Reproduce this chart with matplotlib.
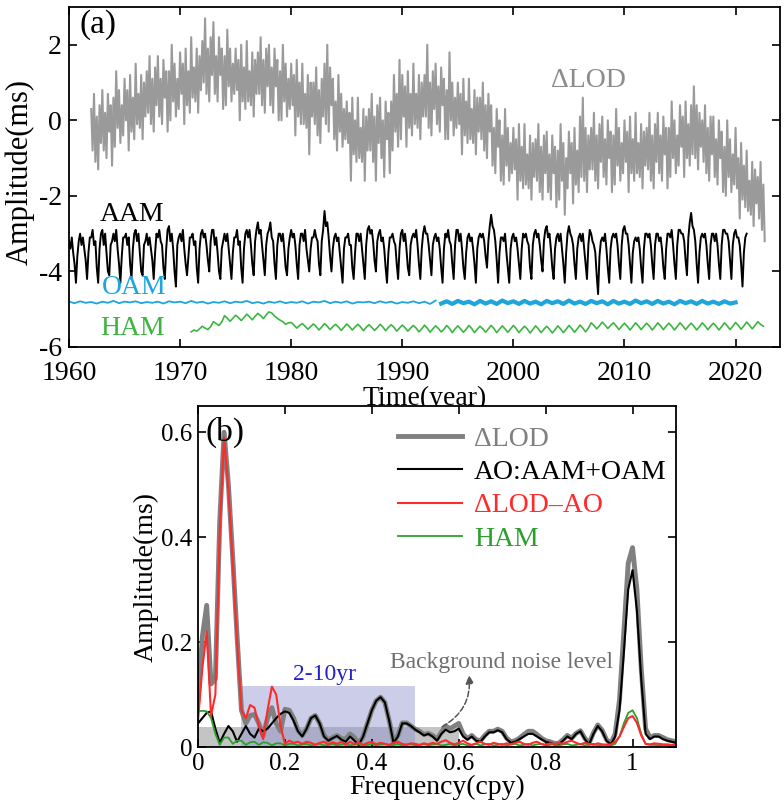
import numpy as np
import matplotlib
matplotlib.use('Agg')
import matplotlib.pyplot as plt
from matplotlib.patches import Rectangle

plt.rcParams['font.family'] = ['Liberation Serif', 'DejaVu Serif']
plt.rcParams['axes.unicode_minus'] = False

# ---- panel (a): time series, 8 samples per year for LOD and AAM ----
lod_rows = [
    [0.3, -0.8, 0.7, -1.1, 0.1, -1.3, 0.4, -0.6],   # 1962
    [0.8, -0.8, 0.2, -1.0, 0.7, -0.3, 0.4, -1.2],
    [0.6, -0.7, 1.3, -0.2, 0.8, -0.6, 0.4, -0.4],
    [1.1, 0.0, 0.8, -0.8, 1.2, -0.3, 0.6, -0.5],
    [1.5, -0.1, 0.7, -0.2, 1.2, -0.5, 1.0, 0.1],
    [1.3, 0.2, 1.7, -0.1, 1.1, -0.3, 1.4, 0.4],
    [1.7, 0.1, 1.1, -0.1, 1.6, 0.6, 1.3, -0.3],
    [1.3, 0.0, 2.0, 0.5, 1.5, 0.1, 1.1, 0.3],
    [1.8, 0.7, 1.5, -0.1, 1.9, 0.4, 1.3, 0.2],
    [2.2, 0.6, 1.4, 0.5, 1.9, 0.2, 1.7, 0.8],
    [2.1, 1.0, 2.7, 0.7, 1.9, 0.5, 2.2, 1.2],       # 1972
    [2.6, 0.7, 1.7, 0.5, 2.2, 1.2, 1.9, 0.3],
    [1.7, 0.4, 2.4, 0.9, 1.9, 0.5, 1.5, 0.7],
    [1.9, 0.8, 1.6, 0.0, 2.0, 0.5, 1.4, 0.3],
    [2.1, 0.5, 1.3, 0.4, 1.8, 0.1, 1.6, 0.7],
    [1.8, 0.7, 2.2, 0.4, 1.6, 0.2, 1.9, 0.9],
    [2.0, 0.4, 1.4, 0.2, 1.9, 0.9, 1.6, 0.0],
    [1.3, 0.0, 2.0, 0.5, 1.5, 0.1, 1.1, 0.3],
    [1.5, 0.4, 1.2, -0.4, 1.6, 0.1, 1.0, -0.1],
    [1.5, -0.1, 0.7, -0.2, 1.2, -0.9, 1.0, 0.1],
    [1.0, -0.1, 1.4, -0.4, 0.8, -0.6, 1.1, 0.1],    # 1982
    [1.5, -0.1, 2.0, -0.3, 1.4, 0.4, 1.1, -0.5],
    [0.5, -0.8, 1.2, -0.3, 0.7, -0.7, 0.3, -0.5],
    [0.5, -0.6, 0.2, -1.6, 0.6, -0.9, 0.0, -1.1],
    [0.6, -1.0, -0.2, -1.1, 0.3, -1.6, 0.1, -0.8],
    [0.3, -0.8, 0.7, -1.1, 0.1, -1.6, 0.4, -0.6],
    [0.6, -1.0, 0.0, -1.5, 0.5, -0.5, 0.2, -1.4],
    [0.5, -0.8, 1.2, -0.3, 0.7, -0.7, 1.6, -0.5],
    [1.2, 0.1, 0.9, -0.7, 1.3, -0.2, 0.7, -0.4],
    [1.5, -0.1, 0.7, -0.2, 1.2, -0.5, 1.0, 0.1],
    [1.2, 0.1, 2.0, -0.2, 1.0, -0.4, 1.3, 0.3],     # 1992
    [1.5, -0.1, 0.9, -0.3, 1.4, 0.4, 1.1, -0.5],
    [0.8, -0.5, 1.8, 0.0, 1.0, -0.4, 0.6, -0.2],
    [1.0, -0.1, 0.7, -0.9, 1.1, -0.4, 0.5, -0.6],
    [1.1, -0.5, 0.3, -0.6, 0.8, -0.9, 0.6, -0.3],
    [0.6, -0.5, 1.0, -0.8, 0.4, -1.0, 0.7, -0.3],
    [0.4, -1.2, -0.2, -1.4, 0.3, -0.7, 0.0, -1.6],
    [-0.4, -1.7, 0.3, -1.2, -0.2, -1.6, -0.6, -1.4],
    [-0.2, -1.3, -0.5, -2.1, -0.1, -1.6, -0.7, -1.8],
    [-0.1, -1.7, -0.9, -1.8, -0.4, -2.1, -0.6, -1.5],
    [-0.5, -1.6, -0.1, -1.9, -0.7, -2.1, -0.4, -1.4],  # 2002
    [-0.3, -1.9, -0.9, -2.1, -0.4, -1.4, -0.7, -2.3],
    [-0.8, -2.1, -0.1, -1.6, -0.6, -2.5, -1.0, -1.8],
    [-0.3, -1.4, -0.6, -2.2, -0.2, -1.7, -0.8, -1.9],
    [0.1, -1.5, 0.6, -1.6, -0.2, -1.9, -0.4, -1.3],
    [-0.2, -1.3, 0.2, -1.6, -0.4, -1.8, -0.1, -1.1],
    [0.1, -1.5, -0.5, -1.7, 0.0, -1.0, -0.3, -1.9],
    [-0.4, -1.7, 0.3, -1.2, -0.2, -1.6, -0.6, -1.4],
    [0.0, -1.1, -0.3, -1.9, 0.1, -1.4, -0.5, -1.6],
    [0.2, -1.4, -0.6, -1.5, -0.1, -1.8, -0.3, -1.2],
    [-0.2, -1.3, 0.2, -1.6, -0.4, -1.8, -0.1, -1.1],   # 2012
    [0.2, -1.4, -0.4, -1.6, 0.1, -0.9, -0.2, -1.8],
    [-0.2, -1.5, 0.5, -1.0, 0.0, -1.4, -0.4, -1.2],
    [0.4, -0.7, 0.1, -1.5, 0.5, -1.0, -0.1, -1.2],
    [0.4, -0.9, 0.9, -1.0, 0.4, -1.3, 0.2, -0.7],
    [0.0, -1.1, 0.4, -1.4, -0.2, -1.6, 0.1, -0.9],
    [0.1, -1.5, -0.5, -1.7, 0.0, -1.0, -0.3, -1.9],
    [-0.7, -2.0, 0.0, -1.5, -0.5, -1.9, -0.9, -1.7],
    [-0.2, -1.8, -1.0, -2.6, -0.6, -2.1, -1.2, -2.3],
    [-0.8, -2.4, -1.6, -2.5, -1.1, -2.8, -1.3, -2.2],
    [-1.5, -2.6, -1.1, -2.9, -1.7, -3.2],              # 2022
]

aam_rows = [
    [-3.2, -3.4, -3.1, -3.5, -3.8, -4.3, -3.6, -3.2],  # 1960
    [-3.0, -3.3, -3.1, -3.4, -3.7, -4.2, -3.5, -3.1],
    [-3.1, -2.9, -3.3, -3.2, -3.9, -4.3, -3.4, -3.0],
    [-2.9, -3.3, -3.0, -3.5, -4.0, -4.1, -3.3, -3.2],
    [-3.0, -3.2, -2.9, -3.4, -3.8, -4.3, -3.6, -3.1],
    [-3.1, -3.0, -3.3, -3.1, -3.8, -4.2, -3.4, -3.0],
    [-2.9, -3.2, -3.0, -3.5, -4.0, -4.1, -3.3, -3.2],
    [-3.0, -3.3, -3.1, -3.4, -3.7, -4.2, -3.5, -3.0],
    [-3.1, -2.9, -3.2, -3.3, -3.9, -4.2, -3.4, -2.9],
    [-2.8, -3.2, -3.0, -3.4, -4.0, -4.4, -3.3, -3.1],
    [-3.0, -3.2, -2.9, -3.4, -3.8, -4.1, -3.6, -3.1],  # 1970
    [-3.1, -3.0, -3.3, -3.2, -3.9, -4.3, -3.4, -3.0],
    [-2.9, -3.1, -3.0, -3.3, -3.7, -4.0, -3.2, -2.9],
    [-2.9, -3.3, -3.1, -3.5, -4.0, -4.2, -3.4, -3.2],
    [-3.0, -3.2, -3.0, -3.4, -3.8, -4.2, -3.5, -3.1],
    [-3.1, -2.9, -3.3, -3.2, -3.9, -4.3, -3.4, -3.0],
    [-2.9, -3.1, -2.9, -3.3, -3.8, -4.1, -3.2, -2.9],
    [-2.7, -3.0, -2.9, -3.3, -3.7, -4.1, -3.3, -3.0],
    [-2.9, -2.7, -3.1, -3.2, -3.8, -4.2, -3.3, -3.0],
    [-3.0, -3.2, -3.0, -3.4, -3.9, -4.1, -3.4, -3.1],
    [-2.9, -3.1, -3.0, -3.3, -3.8, -4.2, -3.3, -3.0],  # 1980
    [-3.0, -3.2, -2.9, -3.4, -3.7, -4.0, -3.4, -3.1],
    [-3.1, -2.9, -3.1, -3.2, -3.8, -4.1, -3.2, -2.9],
    [-2.4, -2.8, -2.7, -3.1, -3.6, -4.0, -3.4, -3.1],
    [-3.0, -3.2, -3.1, -3.5, -3.9, -4.3, -3.4, -3.1],
    [-3.1, -3.0, -3.3, -3.3, -3.9, -4.2, -3.5, -3.0],
    [-3.0, -3.2, -3.0, -3.4, -3.8, -4.2, -3.3, -2.9],
    [-2.8, -3.0, -2.9, -3.2, -3.7, -4.0, -3.2, -3.0],
    [-2.9, -3.2, -3.1, -3.4, -3.9, -4.3, -3.5, -3.1],
    [-3.1, -3.0, -3.2, -3.3, -3.8, -4.2, -3.4, -3.0],
    [-2.9, -3.2, -3.0, -3.4, -3.9, -4.1, -3.3, -3.1],  # 1990
    [-3.0, -3.1, -2.9, -3.3, -3.8, -4.2, -3.4, -3.0],
    [-2.8, -3.0, -3.0, -3.3, -3.7, -4.1, -3.3, -3.1],
    [-3.0, -3.2, -3.1, -3.4, -3.9, -4.3, -3.4, -3.0],
    [-3.1, -2.9, -3.2, -3.3, -3.8, -4.2, -3.3, -2.9],
    [-2.9, -3.2, -3.0, -3.4, -3.9, -4.2, -3.5, -3.1],
    [-3.0, -3.2, -3.1, -3.4, -3.8, -4.3, -3.4, -3.1],
    [-3.0, -3.1, -3.0, -3.2, -3.6, -3.9, -3.2, -2.8],
    [-2.5, -2.8, -2.9, -3.2, -3.7, -4.3, -3.5, -3.1],
    [-3.1, -3.2, -3.0, -3.5, -3.9, -4.3, -3.4, -3.1],
    [-3.0, -3.2, -3.1, -3.4, -3.8, -4.2, -3.4, -3.0],  # 2000
    [-3.1, -3.0, -3.2, -3.3, -3.9, -4.2, -3.3, -3.0],
    [-2.9, -3.1, -3.0, -3.3, -3.7, -4.0, -3.2, -2.9],
    [-2.8, -3.1, -3.0, -3.4, -3.9, -4.2, -3.4, -3.1],
    [-3.0, -3.2, -3.0, -3.4, -3.8, -4.3, -3.5, -3.0],
    [-2.8, -3.0, -3.1, -3.3, -3.8, -4.2, -3.4, -3.1],
    [-3.0, -3.2, -3.0, -3.4, -3.8, -4.2, -3.3, -2.9],
    [-3.0, -3.2, -3.3, -3.5, -4.1, -4.6, -3.6, -3.2],
    [-3.1, -3.2, -3.0, -3.4, -3.9, -4.3, -3.4, -3.1],
    [-3.0, -3.1, -3.0, -3.3, -3.8, -4.2, -3.3, -2.9],
    [-2.8, -3.0, -3.0, -3.3, -3.8, -4.3, -3.5, -3.2],  # 2010
    [-3.1, -3.2, -3.1, -3.4, -3.9, -4.3, -3.4, -3.0],
    [-3.0, -3.1, -3.0, -3.3, -3.8, -4.2, -3.3, -3.0],
    [-3.0, -3.2, -3.1, -3.4, -3.9, -4.2, -3.4, -3.0],
    [-3.0, -3.1, -2.9, -3.3, -3.8, -4.2, -3.3, -2.9],
    [-2.9, -3.0, -3.0, -3.2, -3.7, -4.1, -3.1, -2.7],
    [-2.45, -2.8, -2.9, -3.2, -3.8, -4.3, -3.5, -3.1],
    [-3.0, -3.1, -3.0, -3.3, -3.8, -4.2, -3.3, -3.0],
    [-3.0, -3.2, -3.0, -3.3, -3.8, -4.2, -3.3, -2.9],
    [-2.9, -3.0, -3.0, -3.2, -3.7, -4.2, -3.3, -3.0],
    [-2.9, -3.1, -3.1, -3.3, -3.8, -4.4, -3.5, -3.1],  # 2020
    [-3.0],
]

# OAM, 2 samples per year from 1960
oam = [
    -4.80, -4.84, -4.79, -4.83, -4.81, -4.85, -4.80, -4.83, -4.78, -4.84,
    -4.80, -4.82, -4.79, -4.84, -4.81, -4.83, -4.80, -4.85, -4.79, -4.82,
    -4.80, -4.84, -4.78, -4.83, -4.80, -4.85, -4.81, -4.83, -4.79, -4.84,
    -4.80, -4.82, -4.78, -4.84, -4.81, -4.85, -4.80, -4.83, -4.79, -4.84,
    -4.81, -4.83, -4.79, -4.85, -4.80, -4.82, -4.78, -4.84, -4.80, -4.83,
    -4.79, -4.85, -4.81, -4.82, -4.80, -4.84, -4.79, -4.83, -4.80, -4.85,
    -4.81, -4.83, -4.79, -4.84, -4.80, -4.86, -4.77, -4.85, -4.79, -4.86,
    -4.78, -4.84, -4.80, -4.87, -4.78, -4.85, -4.79, -4.86, -4.77, -4.84,
    -4.79, -4.86, -4.78, -4.85, -4.80, -4.87, -4.78, -4.84, -4.79, -4.86,
    -4.77, -4.85, -4.80, -4.86, -4.78, -4.84, -4.79, -4.87, -4.78, -4.85,
    -4.80, -4.86, -4.77, -4.84, -4.79, -4.86, -4.78, -4.85, -4.80, -4.87,
    -4.78, -4.84, -4.79, -4.86, -4.78, -4.85, -4.80, -4.86, -4.79, -4.85,
    -4.82,
]

# HAM, 4 samples per year from 1971
ham = [
    -5.60, -5.55, -5.58, -5.52,  -5.45, -5.50, -5.54, -5.46,
    -5.33, -5.38, -5.43, -5.34,  -5.17, -5.24, -5.32, -5.24,
    -5.16, -5.22, -5.30, -5.22,  -5.13, -5.20, -5.28, -5.19,
    -5.11, -5.17, -5.25, -5.15,  -5.07, -5.10, -5.18, -5.24,
    -5.29, -5.33, -5.40, -5.36,  -5.35, -5.42, -5.50, -5.43,   # 1979-80
    -5.38, -5.45, -5.53, -5.46,  -5.39, -5.46, -5.55, -5.47,
    -5.38, -5.45, -5.54, -5.46,  -5.40, -5.47, -5.56, -5.48,
    -5.39, -5.46, -5.55, -5.47,  -5.40, -5.47, -5.57, -5.48,
    -5.41, -5.48, -5.56, -5.49,  -5.40, -5.47, -5.57, -5.48,
    -5.41, -5.48, -5.58, -5.50,  -5.42, -5.49, -5.58, -5.50,   # 1989-90
    -5.43, -5.50, -5.60, -5.52,  -5.42, -5.50, -5.61, -5.52,
    -5.44, -5.51, -5.60, -5.53,  -5.43, -5.51, -5.62, -5.52,
    -5.44, -5.52, -5.61, -5.53,  -5.43, -5.51, -5.62, -5.53,
    -5.45, -5.52, -5.61, -5.52,  -5.43, -5.51, -5.62, -5.53,
    -5.44, -5.52, -5.61, -5.52,  -5.43, -5.51, -5.62, -5.53,   # 1999-2000
    -5.45, -5.52, -5.63, -5.54,  -5.44, -5.52, -5.62, -5.53,
    -5.45, -5.53, -5.63, -5.54,  -5.44, -5.52, -5.62, -5.53,
    -5.43, -5.51, -5.61, -5.52,  -5.42, -5.50, -5.60, -5.50,
    -5.36, -5.43, -5.52, -5.44,  -5.34, -5.42, -5.51, -5.43,
    -5.36, -5.44, -5.54, -5.45,  -5.37, -5.45, -5.55, -5.46,   # 2009-10
    -5.36, -5.44, -5.54, -5.45,  -5.37, -5.45, -5.55, -5.46,
    -5.36, -5.44, -5.54, -5.45,  -5.37, -5.45, -5.55, -5.46,
    -5.36, -5.44, -5.54, -5.45,  -5.37, -5.45, -5.55, -5.46,
    -5.36, -5.44, -5.54, -5.45,  -5.37, -5.45, -5.55, -5.46,
    -5.36, -5.44, -5.54, -5.45,  -5.35, -5.43, -5.53, -5.44,   # 2019-20
    -5.34, -5.42, -5.52, -5.43,  -5.33, -5.40, -5.45,
]

# ---- panel (b): amplitude spectra on a 0.01 cpy grid ----
freq = np.round(np.arange(0, 1.1001, 0.01), 2)

spec_lod = [
    0.09, 0.21, 0.27, 0.12, 0.13, 0.43, 0.60, 0.50, 0.36, 0.21,
    0.07, 0.045, 0.06, 0.062, 0.045, 0.022, 0.055, 0.075, 0.045, 0.03,
    0.072, 0.07, 0.055, 0.032, 0.022, 0.035, 0.055, 0.06, 0.045, 0.022,
    0.013, 0.018, 0.022, 0.016, 0.015, 0.025, 0.018, 0.006, 0.02, 0.045,
    0.07, 0.088, 0.095, 0.085, 0.05, 0.01, 0.022, 0.046, 0.046, 0.04,
    0.034, 0.03, 0.024, 0.026, 0.022, 0.015, 0.028, 0.04, 0.035, 0.04,
    0.045, 0.025, 0.016, 0.022, 0.014, 0.012, 0.022, 0.03, 0.03, 0.034,
    0.03, 0.017, 0.01, 0.012, 0.017, 0.024, 0.03, 0.03, 0.024, 0.017,
    0.012, 0.01, 0.007, 0.007, 0.014, 0.022, 0.017, 0.026, 0.031, 0.017,
    0.007, 0.027, 0.042, 0.032, 0.014, 0.007, 0.025, 0.09, 0.22, 0.35,
    0.38, 0.30, 0.15, 0.035, 0.018, 0.022, 0.022, 0.018, 0.014, 0.012,
    0.01,
]
spec_ao = [
    0.045, 0.055, 0.065, 0.068, 0.035, 0.008, 0.025, 0.04, 0.03, 0.01,
    0.025, 0.04, 0.025, 0.018, 0.035, 0.03, 0.035, 0.045, 0.055, 0.063,
    0.068, 0.065, 0.05, 0.03, 0.02, 0.035, 0.055, 0.06, 0.045, 0.02,
    0.012, 0.017, 0.021, 0.014, 0.01, 0.02, 0.012, 0.004, 0.02, 0.045,
    0.07, 0.088, 0.095, 0.085, 0.05, 0.008, 0.02, 0.045, 0.045, 0.04,
    0.033, 0.028, 0.022, 0.025, 0.02, 0.012, 0.025, 0.033, 0.028, 0.03,
    0.035, 0.02, 0.014, 0.02, 0.012, 0.01, 0.02, 0.028, 0.028, 0.032,
    0.028, 0.015, 0.008, 0.01, 0.015, 0.02, 0.025, 0.025, 0.02, 0.015,
    0.01, 0.008, 0.005, 0.005, 0.012, 0.02, 0.015, 0.025, 0.03, 0.015,
    0.005, 0.025, 0.04, 0.03, 0.012, 0.005, 0.02, 0.07, 0.18, 0.30,
    0.337, 0.26, 0.13, 0.025, 0.015, 0.02, 0.02, 0.015, 0.012, 0.01,
    0.008,
]
spec_res = [
    0.05, 0.15, 0.22, 0.06, 0.10, 0.41, 0.59, 0.49, 0.35, 0.20,
    0.07, 0.055, 0.08, 0.075, 0.04, 0.015, 0.07, 0.115, 0.10, 0.04,
    0.006, 0.012, 0.008, 0.01, 0.006, 0.01, 0.008, 0.004, 0.008, 0.01,
    0.005, 0.009, 0.006, 0.01, 0.004, 0.01, 0.005, 0.009, 0.004, 0.008,
    0.01, 0.005, 0.008, 0.006, 0.004, 0.008, 0.01, 0.006, 0.004, 0.007,
    0.006, 0.004, 0.007, 0.005, 0.008, 0.006, 0.01, 0.013, 0.008, 0.005,
    0.008, 0.012, 0.007, 0.004, 0.007, 0.01, 0.006, 0.004, 0.008, 0.006,
    0.004, 0.007, 0.005, 0.008, 0.01, 0.006, 0.004, 0.008, 0.01, 0.006,
    0.004, 0.007, 0.005, 0.008, 0.006, 0.01, 0.012, 0.008, 0.005, 0.008,
    0.006, 0.004, 0.007, 0.005, 0.004, 0.005, 0.01, 0.02, 0.038, 0.055,
    0.059, 0.046, 0.022, 0.006, 0.005, 0.007, 0.006, 0.005, 0.005, 0.004,
    0.004,
]
spec_ham = [
    0.068, 0.069, 0.068, 0.055, 0.025, 0.004, 0.018, 0.018, 0.006, 0.012,
    0.012, 0.004, 0.009, 0.01, 0.004, 0.009, 0.008, 0.003, 0.007, 0.007,
    0.003, 0.006, 0.006, 0.003, 0.005, 0.006, 0.003, 0.005, 0.006, 0.003,
    0.004, 0.006, 0.003, 0.005, 0.006, 0.003, 0.005, 0.006, 0.003, 0.004,
    0.006, 0.003, 0.005, 0.006, 0.003, 0.004, 0.006, 0.003, 0.005, 0.006,
    0.003, 0.004, 0.006, 0.003, 0.005, 0.006, 0.003, 0.004, 0.006, 0.003,
    0.005, 0.006, 0.003, 0.004, 0.006, 0.003, 0.005, 0.006, 0.003, 0.004,
    0.006, 0.003, 0.005, 0.006, 0.003, 0.004, 0.006, 0.003, 0.005, 0.006,
    0.003, 0.004, 0.006, 0.003, 0.005, 0.006, 0.003, 0.004, 0.006, 0.003,
    0.005, 0.006, 0.003, 0.004, 0.005, 0.003, 0.006, 0.02, 0.045, 0.065,
    0.07, 0.055, 0.025, 0.006, 0.004, 0.004, 0.003, 0.004, 0.003, 0.003,
    0.003,
]

# ---- build series ----
lod = np.concatenate([np.array(r) for r in lod_rows])
aam = np.concatenate([np.array(r) for r in aam_rows])
lod_t = 1962 + np.arange(len(lod)) / 8
aam_t = 1960 + np.arange(len(aam)) / 8
oam_t = 1960 + np.arange(len(oam)) / 2
ham_t = 1971 + np.arange(len(ham)) / 4
oam = np.array(oam)

c_lod = '#9a9a9a'
c_oam = '#1ea5dc'
c_ham = '#3db542'

fig = plt.figure(figsize=(7.84, 8.01), dpi=100)
ax1 = fig.add_axes([69/784, 1 - 347/801, 711/784, 340/801])
ax2 = fig.add_axes([198/784, 1 - 747/801, 478/784, 341/801])

for ax in (ax1, ax2):
    ax.tick_params(direction='in', top=True, right=True, length=6, width=1.2, pad=4)
    for s in ax.spines.values():
        s.set_linewidth(1.3)

# panel (a)
ax1.plot(lod_t, lod, color=c_lod, lw=1.5)
ax1.plot(aam_t, aam, color='black', lw=1.4)
pre = oam_t <= 1993
ax1.plot(oam_t[pre], oam[pre], color=c_oam, lw=1.3)
ax1.plot(oam_t[~pre], oam[~pre], color=c_oam, lw=3.0)
ax1.plot(ham_t, ham, color=c_ham, lw=1.2)

ax1.set_xlim(1960, 2024)
ax1.set_ylim(-6, 3)
ax1.set_xticks([1960, 1970, 1980, 1990, 2000, 2010, 2020])
ax1.set_yticks([-6, -4, -2, 0, 2])
ax1.tick_params(labelsize=20)
ax1.tick_params(axis='x', pad=10)
ax1.tick_params(axis='y', pad=5)
ax1.set_xlabel('Time(year)', fontsize=20, labelpad=0)
ax1.set_ylabel('Amplitude(ms)', fontsize=22)
ax1.yaxis.set_label_coords(-0.048, 0.515)

ax1.text(0.015, 0.947, '(a)', transform=ax1.transAxes, fontsize=24, va='center')
ax1.text(2003.4, 1.05, 'ΔLOD', color='#8c8c8c', fontsize=20, va='center')
ax1.text(1962.8, -2.5, 'AAM', color='black', fontsize=20, va='center')
ax1.text(1963.0, -4.42, 'OAM', color=c_oam, fontsize=20, va='center')
ax1.text(1962.8, -5.5, 'HAM', color=c_ham, fontsize=20, va='center')

# panel (b)
ax2.add_patch(Rectangle((0, 0), 0.6, 0.038, color='#c4c4c4', zorder=0, lw=0))
ax2.add_patch(Rectangle((0.1, 0), 0.4, 0.116, color='#8c90d0', alpha=0.45, zorder=0.5, lw=0))

ax2.plot(freq, spec_lod, color='#808080', lw=3.5, label='ΔLOD', solid_joinstyle='round')
ax2.plot(freq, spec_ao, color='black', lw=1.5, label='AO:AAM+OAM')
ax2.plot(freq, spec_ham, color='#2ca02c', lw=1.3, label='HAM')
ax2.plot(freq, spec_res, color='#ff2a2a', lw=1.5, label='ΔLOD–AO')

ax2.set_xlim(0, 1.1)
ax2.set_ylim(0, 0.65)
ax2.set_xticks([0, 0.2, 0.4, 0.6, 0.8, 1.0])
ax2.set_xticklabels(['0', '0.2', '0.4', '0.6', '0.8', '1'])
ax2.set_yticks([0, 0.2, 0.4, 0.6])
ax2.set_yticklabels(['0', '0.2', '0.4', '0.6'])
ax2.tick_params(labelsize=18)
ax2.set_xlabel('Frequency(cpy)', fontsize=20, labelpad=0)
ax2.set_ylabel('Amplitude(ms)', fontsize=20, labelpad=2)

ax2.text(0.015, 0.924, '(b)', transform=ax2.transAxes, fontsize=24, va='center')
ax2.text(0.29, 0.139, '2-10yr', color='#2222c8', fontsize=17, ha='center', va='center')
ax2.text(0.441, 0.162, 'Background noise level', color='#707070', fontsize=17, va='center')
ax2.annotate('', xy=(0.623, 0.142), xytext=(0.556, 0.036),
             arrowprops=dict(arrowstyle='-|>', color='#555555', lw=1.1, ls='--',
                             connectionstyle='arc3,rad=0.35', mutation_scale=12))

handles, labels = ax2.get_legend_handles_labels()
order = [0, 1, 3, 2]
leg = ax2.legend([handles[i] for i in order], [labels[i] for i in order],
                 loc='upper left', bbox_to_anchor=(0.418, 0.94), frameon=False,
                 fontsize=20, handlelength=2.3, handletextpad=0.45, labelspacing=0.28,
                 borderpad=0, borderaxespad=0)
for txt, col in zip(leg.get_texts(), ['#808080', 'black', '#ff2a2a', '#2ca02c']):
    txt.set_color(col)

fig.savefig('out.png', dpi=100)
